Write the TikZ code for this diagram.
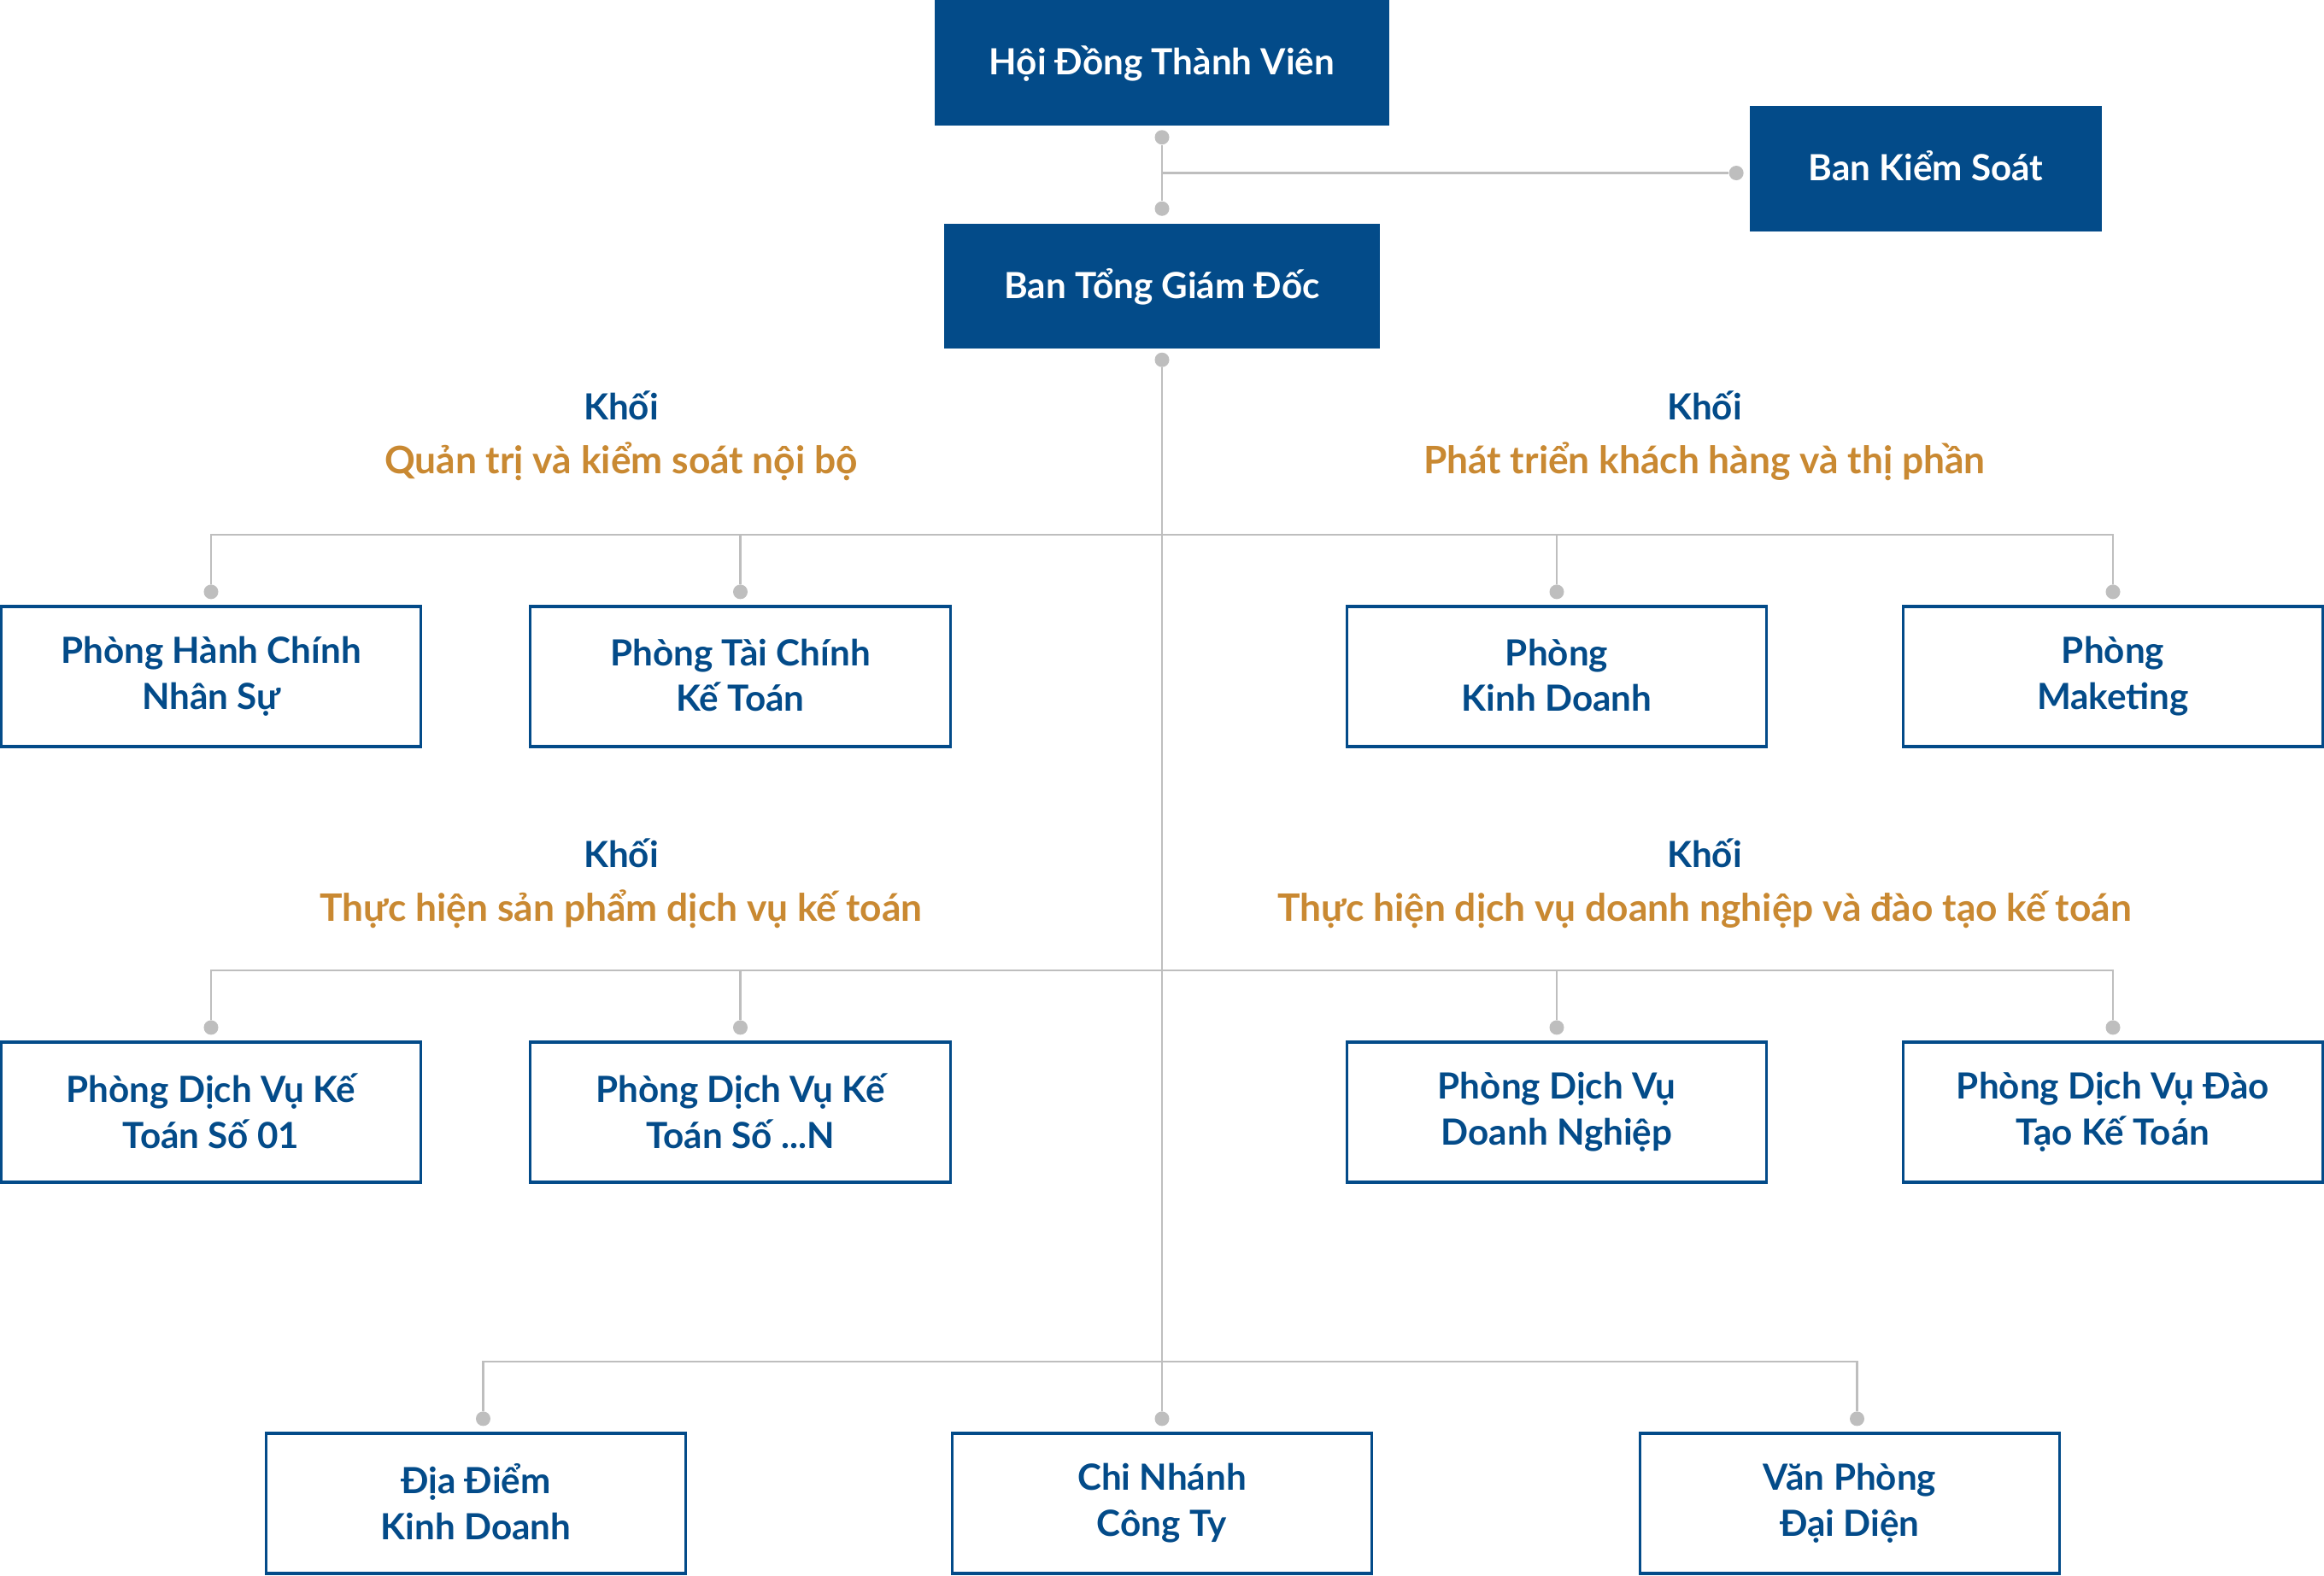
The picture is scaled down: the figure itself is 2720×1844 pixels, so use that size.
\documentclass[tikz,border=0pt]{standalone}
\usepackage{fontspec}
\setmainfont{Lato}
\usepackage{tikz}
\usetikzlibrary{positioning}
\definecolor{orgblue}{RGB}{3,75,137}
\definecolor{orggold}{RGB}{201,137,50}
\definecolor{orggray}{RGB}{190,190,190}
\tikzset{
  boxfont/.style={font=\fontsize{12}{14.8}\selectfont\bfseries,
    execute at begin node={\rule{0pt}{12pt}}, execute at end node={\rule[-4pt]{0pt}{4pt}}},
  topbox/.style={boxfont, fill=orgblue, text=white, inner sep=0pt, minimum height=1.46cm},
  deptbox/.style={font=\fontsize{12}{15.3}\selectfont\bfseries,
    execute at begin node={\rule{0pt}{16pt}}, execute at end node={\rule[-1pt]{0pt}{1pt}},
    draw=orgblue, line width=0.9pt, text=orgblue, align=center,
    inner sep=0pt, minimum width=4.91cm, minimum height=1.64cm},
  blockhead/.style={boxfont, text=orgblue},
  blockname/.style={boxfont, font=\fontsize{12.6}{15}\selectfont\bfseries, text=orggold},
  wire/.style={draw=orggray, line width=0.75pt},
  joint/.style={circle, fill=orggray, inner sep=0pt, minimum size=0.17cm},
}
\begin{document}
\begin{tikzpicture}[x=0.01cm, y=-0.01cm]
  \useasboundingbox (0,0) rectangle (2720,1844);
  % board and management
  \node[topbox, minimum width=5.31cm] (hdtv) at (1360,73.5) {Hội Đồng Thành Viên};
  \node[topbox, minimum width=4.11cm] (bks) at (2254,197.5) {Ban Kiểm Soát};
  \node[topbox, minimum width=5.10cm] (btgd) at (1360,335) {Ban Tổng Giám Đốc};
  \node[joint] (j-hdtv) at ([yshift=-0.135cm]hdtv.south) {};
  \node[joint] (j-btgd) at ([yshift=0.17cm]btgd.north) {};
  \node[joint] (j-bks) at ([xshift=-0.155cm, yshift=-0.05cm]bks.west) {};
  \node[joint] (j-trunk) at ([yshift=-0.125cm]btgd.south) {};
  \draw[wire] (j-hdtv) -- (j-btgd);
  \draw[wire] (j-hdtv |- j-bks) -- (j-bks);

  % first row of blocks
  \node[blockhead] (kh1) at (727,477) {Khối};
  \node[blockname] (kn1) at (727,540.5) {Quản trị và kiểm soát nội bộ};
  \node[blockhead] (kh2) at (1995,477) {Khối};
  \node[blockname] (kn2) at (1995,540.5) {Phát triển khách hàng và thị phần};
  \node[deptbox] (hcns) at (247,792) {Phòng Hành Chính\\Nhân Sự};
  \node[deptbox] (tckt) at (866.5,792) {Phòng Tài Chính\\Kế Toán};
  \node[deptbox] (kd) at (1822,792) {Phòng\\Kinh Doanh};
  \node[deptbox] (mkt) at (2473,792) {Phòng\\Maketing};

  % second row of blocks
  \node[blockhead] (kh3) at (727,1001) {Khối};
  \node[blockname] (kn3) at (727,1064.5) {Thực hiện sản phẩm dịch vụ kế toán};
  \node[blockhead] (kh4) at (1995,1001) {Khối};
  \node[blockname] (kn4) at (1995,1064.5) {Thực hiện dịch vụ doanh nghiệp và đào tạo kế toán};
  \node[deptbox] (dv01) at (247,1302) {Phòng Dịch Vụ Kế\\Toán Số 01};
  \node[deptbox] (dvn) at (866.5,1302) {Phòng Dịch Vụ Kế\\Toán Số ...N};
  \node[deptbox] (dvdn) at (1822,1302) {Phòng Dịch Vụ\\Doanh Nghiệp};
  \node[deptbox] (dtkt) at (2473,1302) {Phòng Dịch Vụ Đào\\Tạo Kế Toán};

  % branches
  \node[deptbox] (ddkd) at (557,1760) {Địa Điểm\\Kinh Doanh};
  \node[deptbox] (cn) at (1360,1760) {Chi Nhánh\\Công Ty};
  \node[deptbox] (vpdd) at (2165,1760) {Văn Phòng\\Đại Diện};

  % joints above the boxes
  \foreach \d in {hcns,tckt,kd,mkt,dv01,dvn,dvdn,dtkt,cn}
    \node[joint] (j-\d) at ([yshift=0.155cm]\d.north) {};
  \node[joint] (j-ddkd) at ([xshift=0.085cm, yshift=0.155cm]ddkd.north) {};
  \node[joint] (j-vpdd) at ([xshift=0.085cm, yshift=0.155cm]vpdd.north) {};

  % trunk and buses
  \coordinate (bus1) at (1360,626);
  \coordinate (bus2) at (1360,1136);
  \coordinate (bus3) at (1360,1594);
  \draw[wire] (j-trunk) -- (j-cn);
  \draw[wire] (j-hcns) |- (bus1) -| (j-mkt);
  \draw[wire] (j-tckt) -- (j-tckt |- bus1);
  \draw[wire] (j-kd) -- (j-kd |- bus1);
  \draw[wire] (j-dv01) |- (bus2) -| (j-dtkt);
  \draw[wire] (j-dvn) -- (j-dvn |- bus2);
  \draw[wire] (j-dvdn) -- (j-dvdn |- bus2);
  \draw[wire] (j-ddkd) |- (bus3) -| (j-vpdd);
\end{tikzpicture}
\end{document}
